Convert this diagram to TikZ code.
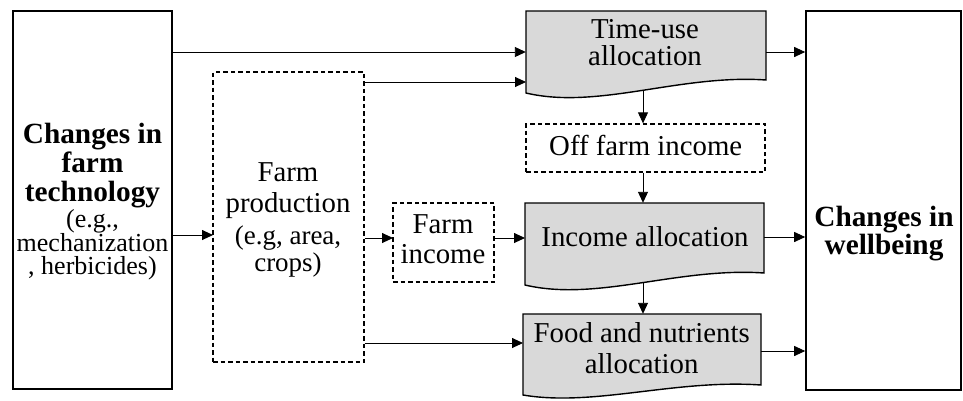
\documentclass[tikz,border=0pt]{standalone}
\usepackage{fontspec}
\setmainfont{Liberation Serif}
\usetikzlibrary{arrows.meta,calc}
\definecolor{docgray}{HTML}{D9D9D9}
\newcommand\smallfont{\fontsize{27}{22}\selectfont\mdseries}
\newcommand\techsmall{\fontsize{26}{22}\selectfont\mdseries}
\begin{document}
\begin{tikzpicture}[x=1pt,y=-1pt,
  solidbox/.style={draw, line width=1.6pt, inner sep=0pt},
  dashbox/.style={draw, dash pattern=on 4.5pt off 3pt, line width=1.3pt, inner sep=0pt},
  region/.style={inner sep=0pt},
  docshape/.style={fill=docgray, draw, line width=1.4pt, line join=miter},
  big/.style={align=center, inner sep=0pt, font=\fontsize{28.8}{28}\selectfont},
  bigbold/.style={align=center, inner sep=0pt, font=\fontsize{29.3}{29}\selectfont\bfseries},
  arr/.style={line width=0.9pt, -{Triangle[length=11pt,width=10pt]}}
]
\useasboundingbox (0,0) rectangle (963,400);

% document shapes
\path[docshape] (526,11) -- (766,11) -- (766,80) .. controls (680,74) and (598,110) .. (526,93) -- cycle;
\path[docshape] (525,203) -- (764,203) -- (764,273) .. controls (678,267) and (597,302) .. (525,285) -- cycle;
\path[docshape] (523,314) -- (761,314) -- (761,385) .. controls (675,379) and (594,407) .. (523,395) -- cycle;

% boxes
\node[solidbox, minimum width=159pt, minimum height=378pt] (tech) at (92.5,200) {};
\node[solidbox, minimum width=155pt, minimum height=379pt] (wb) at (883.5,200.5) {};
\node[dashbox, minimum width=151pt, minimum height=290pt] (fp) at (288.5,217) {};
\node[dashbox, minimum width=101pt, minimum height=79pt] (fi) at (443.5,242.5) {};
\node[dashbox, minimum width=239pt, minimum height=48pt] (of) at (645.5,148) {};
\node[region, minimum width=240pt, minimum height=82pt] (tu) at (646,52) {};
\node[region, minimum width=239pt, minimum height=82pt] (ia) at (644.5,244) {};
\node[region, minimum width=238pt, minimum height=81pt] (fa) at (642,354.5) {};

% texts
\node[bigbold, anchor=north] (techt) at (92.5,123)
  {Changes in\\farm\\technology\\[-3pt]{\techsmall (e.g.,}\\[-5.5pt]{\techsmall mechanization}\\[-5.5pt]{\techsmall , herbicides)}};
\node[bigbold, anchor=north] (wbt) at (884,205.5) {Changes in\\[-1pt]wellbeing};
\node[big, font=\fontsize{28.8}{31}\selectfont, anchor=north] (fpt) at (288,162.5)
  {Farm\\production\\[1pt]{\smallfont (e.g, area,}\\[-4pt]{\smallfont crops)}};
\node[big, font=\fontsize{28.8}{30}\selectfont] (fit) at (443,239.5) {Farm\\income};
\node[big] (oft) at (645.7,145.5) {Off farm income};
\node[big, font=\fontsize{28.8}{27}\selectfont] (tut) at (645,43) {Time-use\\allocation};
\node[big] (iat) at (645,237) {Income allocation};
\node[big, font=\fontsize{28.8}{31}\selectfont] (fat) at (641.7,347.7) {Food and nutrients\\allocation};

% connector coordinates
\coordinate (tuin) at (526,82);
\coordinate (fpin) at (213,235);
\coordinate (fiin) at (393,238);
\coordinate (iain) at (525,238);
\coordinate (fain) at (523,343);
\coordinate (iaout) at (764,237);
\coordinate (faout) at (761,351);
\coordinate (tubot) at (643,90);
\coordinate (iabot) at (643,283);

% connectors
\draw[arr] (tech.east |- tu.west) -- (tu.west);
\draw[arr] (fp.east |- tuin) -- (tuin);
\draw[arr] (tech.east |- fpin) -- (fpin);
\draw[arr] (fp.east |- fiin) -- (fiin);
\draw[arr] (fi.east |- iain) -- (iain);
\draw[arr] (fp.east |- fain) -- (fain);
\draw[arr] (tu.east) -- (wb.west |- tu.east);
\draw[arr] (iaout) -- (wb.west |- iaout);
\draw[arr] (faout) -- (wb.west |- faout);
\draw[arr] (tubot) -- (of.north -| tubot);
\draw[arr] (of.south -| tubot) -- (ia.north -| tubot);
\draw[arr] (iabot) -- (fa.north -| iabot);
\end{tikzpicture}
\end{document}
